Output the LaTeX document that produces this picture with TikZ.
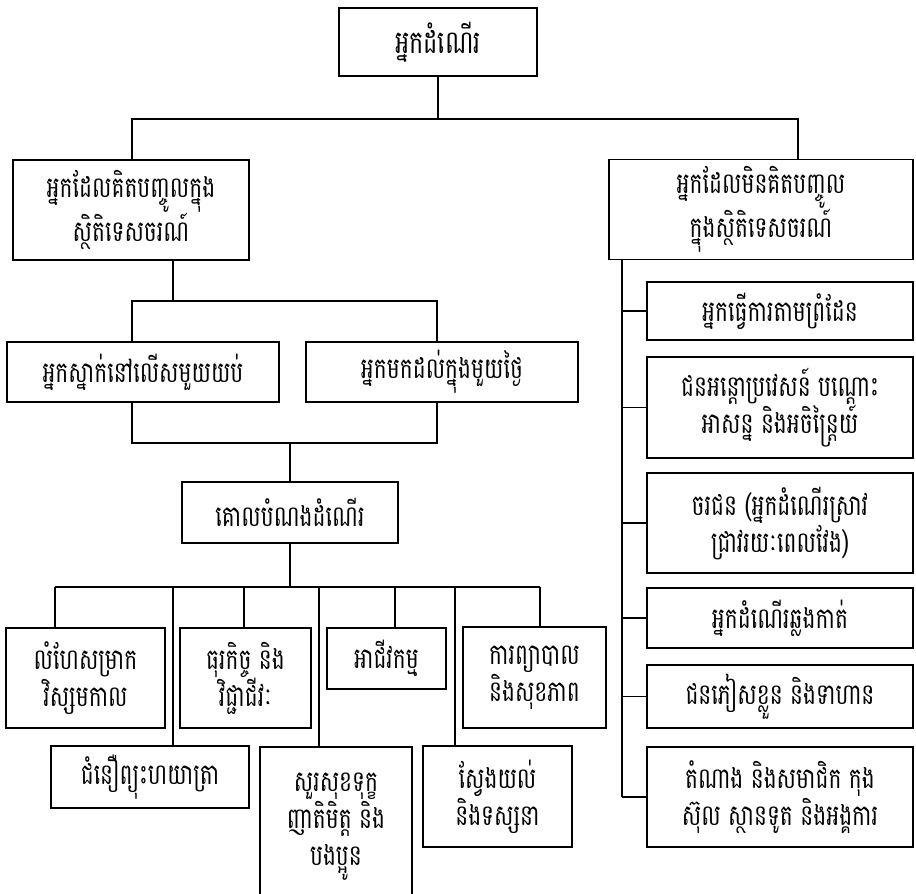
\documentclass[tikz,border=0pt]{standalone}
\usepackage{fontspec}
\newfontfamily\khmer[Script=Khmer,FakeStretch=0.75]{Battambang}
\usepackage{tikz}

\tikzset{
  box/.style={draw,line width=1.3pt,align=center,inner sep=0pt,
    font=\khmer\fontsize{29}{37}\selectfont},
  link/.style={line width=1.3pt}
}

\begin{document}
\begin{tikzpicture}[x=1pt,y=-1pt]
      \clip (0,0) rectangle (916,894);

      \node[box,minimum width=198pt,minimum height=68pt,font=\khmer\fontsize{32}{37}\selectfont] (top) at (438,42) {អ្នកដំណើរ};
      \node[box,minimum width=236pt,minimum height=100pt] (l1) at (131,210) {អ្នកដែលគិតបញ្ចូលក្នុង\\ស្ថិតិទេសចរណ៍};
      \node[box,minimum width=304pt,minimum height=100pt] (r1) at (761,209.5) {អ្នកដែលមិនគិតបញ្ចូល\\ក្នុងស្ថិតិទេសចរណ៍};

      \node[box,minimum width=272pt,minimum height=60pt] (m1) at (143,372) {អ្នកស្នាក់នៅលើសមួយយប់};
      \node[box,minimum width=272pt,minimum height=60pt] (m2) at (442,372) {អ្នកមកដល់ក្នុងមួយថ្ងៃ};
      \node[box,minimum width=216pt,minimum height=61pt] (m3) at (290,512.5) {គោលបំណងដំណើរ};

      \node[box,minimum width=159pt,minimum height=100pt] (b1) at (85.5,678) {លំហែសម្រាក\\វិស្សមកាល};
      \node[box,minimum width=198pt,minimum height=62pt] (b2) at (150,777) {ជំនឿព្យុះហយាត្រា};
      \node[box,minimum width=131pt,minimum height=100pt] (b3) at (245.5,678) {ធុរកិច្ច និង\\វិជ្ជាជីវៈ};
      \node[box,minimum width=152pt,minimum height=160pt] (b4) at (336,827) {សួរសុខទុក្ខ\\ញាតិមិត្ត និង\\បងប្អូន};
      \node[box,minimum width=119pt,minimum height=61pt] (b5) at (386.5,658.5) {អាជីវកម្ម};
      \node[box,minimum width=149pt,minimum height=101pt] (b6) at (497.5,796.5) {ស្វែងយល់\\និងទស្សនា};
      \node[box,minimum width=143pt,minimum height=101pt] (b7) at (534.5,677.5) {ការព្យាបាល\\និងសុខភាព};

      \node[box,minimum width=266pt,minimum height=58pt] (r2) at (780,311) {អ្នកធ្វើការតាមព្រំដែន};
      \node[box,minimum width=266pt,minimum height=101pt] (r3) at (780,407.5) {ជនអន្តោប្រវេសន៍ បណ្ដោះ\\អាសន្ន និងអចិន្ត្រៃយ៍};
      \node[box,minimum width=266pt,minimum height=100pt] (r4) at (780,523) {ចរជន (អ្នកដំណើរស្រាវ\\ជ្រាវរយៈពេលវែង)};
      \node[box,minimum width=266pt,minimum height=60pt] (r5) at (780,618) {អ្នកដំណើរឆ្លងកាត់};
      \node[box,minimum width=266pt,minimum height=63pt] (r6) at (780,696.5) {ជនភៀសខ្លួន និងទាហាន};
      \node[box,minimum width=266pt,minimum height=100pt] (r7) at (780,797) {តំណាង និងសមាជិក កុង\\ស៊ុល ស្ថានទូត និងអង្គការ};

      % first split
      \coordinate (j1l) at (132,119);
      \coordinate (j1r) at (798,119);
      \draw[link] (top.south) -- (top.south |- j1l);
      \draw[link] (l1.north -| j1l) -- (j1l) -- (j1r) -- (r1.north -| j1r);

      % counted visitors
      \coordinate (j2) at (173,301);
      \coordinate (j2l) at (132,301);
      \coordinate (j2r) at (437,301);
      \draw[link] (l1.south -| j2) -- (j2);
      \draw[link] (m1.north -| j2l) -- (j2l) -- (j2r) -- (m2.north -| j2r);

      \coordinate (j3l) at (132,443);
      \coordinate (j3r) at (437,443);
      \draw[link] (m1.south -| j3l) -- (j3l) -- (j3r) -- (m2.south -| j3r);
      \draw[link] (m3.north) -- (m3.north |- j3l);

      % purposes
      \coordinate (j4l) at (55,587);
      \coordinate (j4r) at (540,587);
      \draw[link] (m3.south) -- (m3.south |- j4l);
      \draw[link] (j4l) -- (j4r);
      \foreach \n/\x in {b1/55,b2/173,b3/244,b4/319,b5/395,b6/455,b7/540} {
        \coordinate (t\n) at (\x,587);
        \draw[link] (t\n) -- (\n.north -| t\n);
      }

      % not counted
      \coordinate (rv) at (622,797);
      \draw[link] (r1.south -| rv) -- (rv);
      \foreach \n in {r2,r3,r4,r5,r6,r7}
        \draw[link] (rv |- \n.west) -- (\n.west);
    \end{tikzpicture}
\end{document}
